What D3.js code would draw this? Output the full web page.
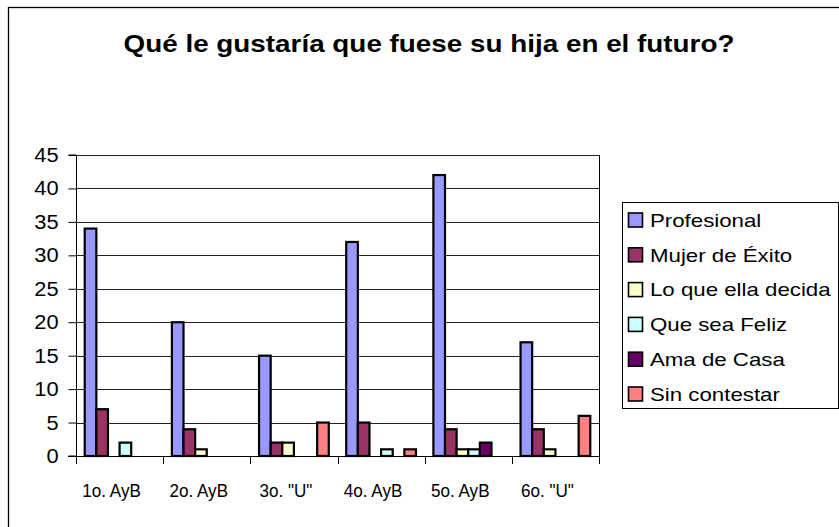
<!DOCTYPE html>
<html><head><meta charset="utf-8">
<script src="https://cdn.jsdelivr.net/npm/d3@7"></script>
<style>html,body{margin:0;padding:0;background:#fff;}svg{display:block;}</style>
</head><body><svg id="c" width="839" height="527"></svg>
<script>
const categories = ['1o. AyB', '2o. AyB', '3o. "U"', '4o. AyB', '5o. AyB', '6o. "U"'];
const seriesNames = ['Profesional', 'Mujer de Éxito', 'Lo que ella decida', 'Que sea Feliz', 'Ama de Casa', 'Sin contestar'];
const seriesColors = ['#9999FF', '#993366', '#FFFFCC', '#CCFFFF', '#660066', '#FF8080'];
const profesional = [34, 20, 15, 32, 42, 17];
const mujerExito = [7, 4, 2, 5, 4, 4];
const loQueElla = [0, 1, 2, 0, 1, 1];
const queSeaFeliz = [2, 0, 0, 1, 1, 0];
const amaDeCasa = [0, 0, 0, 0, 2, 0];
const sinContestar = [0, 0, 5, 1, 0, 6];
const yTicks = [0, 5, 10, 15, 20, 25, 30, 35, 40, 45];
const titleText = 'Qué le gustaría que fuese su hija en el futuro?';

const values = [profesional, mujerExito, loQueElla, queSeaFeliz, amaDeCasa, sinContestar];
const svg = d3.select('#c');
const font = 'Arial, "Liberation Sans", sans-serif';

// chart border
svg.append('rect').attr('x', 8.5).attr('y', 7.5).attr('width', 900).attr('height', 600)
  .attr('fill', 'none').attr('stroke', '#000').attr('stroke-width', 1.3);

svg.append('g').attr('transform', 'translate(429,51.5) scale(1.16,1)')
  .append('text').attr('text-anchor', 'middle')
  .attr('font-family', font).attr('font-weight', 'bold').attr('font-size', 24)
  .text(titleText);

const L = 76, R = 599, T = 155, B = 456;
const x = d3.scaleBand().domain(categories).range([L, R]).paddingInner(0).paddingOuter(0);
const y = d3.scaleLinear().domain([0, 45]).range([B, T]);

// plot area border (top and right)
svg.append('path').attr('d', `M${L},${T + 0.5}H${R + 0.5}V${B}`).attr('fill', 'none').attr('stroke', '#000');

// gridlines
svg.append('g').selectAll('line').data(yTicks.filter(d => d > 0)).join('line')
  .attr('x1', L).attr('x2', R).attr('y1', d => Math.round(y(d)) + 0.5).attr('y2', d => Math.round(y(d)) + 0.5)
  .attr('stroke', '#222').attr('stroke-width', 1);

// bars
const catW = x.bandwidth();
const barW = catW / 7.5;
const inner = d3.scaleBand().domain(d3.range(seriesNames.length)).range([barW * 0.75, catW - barW * 0.75]).padding(0);
const gBars = svg.append('g');
values.forEach((arr, si) => {
  gBars.selectAll(null).data(arr.map((v, ci) => ({ v, ci }))).join('rect')
    .filter(d => d.v > 0)
    .attr('x', d => x(categories[d.ci]) + inner(si))
    .attr('y', d => y(d.v))
    .attr('width', inner.bandwidth())
    .attr('height', d => y(0) - y(d.v))
    .attr('fill', seriesColors[si]).attr('stroke', '#000').attr('stroke-width', 2.2);
});

// y axis
const yAxis = svg.append('g').attr('transform', `translate(${L + 0.5},0)`)
  .call(d3.axisLeft(y).tickValues(yTicks).tickSize(8).tickPadding(8).tickFormat(d3.format('d')));
yAxis.selectAll('text').attr('font-family', font).attr('font-size', 19.5).attr('fill', '#000')
  .attr('x', -16).attr('dy', '0.33em').attr('transform', 'scale(1.12,1)');
yAxis.selectAll('line,path').attr('stroke', '#000');
yAxis.select('.domain').attr('d', `M-8,${T}H0V${B}H-8`);

// x axis
const xAxis = svg.append('g').attr('transform', `translate(0,${B + 0.5})`)
  .call(d3.axisBottom(x).tickSize(0).tickPadding(0));
xAxis.select('.domain').attr('d', `M${L - 8},0H${R + 0.5}`).attr('stroke', '#000');
xAxis.selectAll('.tick text').attr('font-family', font).attr('font-size', 18).attr('fill', '#000')
  .attr('y', 0).attr('dy', 0)
  .attr('transform', 'translate(-8,40) scale(0.95,1)');
svg.append('g').selectAll('line').data(categories.concat(['end'])).join('line')
  .attr('x1', (d, i) => Math.round(L + i * catW) + 0.5).attr('x2', (d, i) => Math.round(L + i * catW) + 0.5)
  .attr('y1', B).attr('y2', B + 8).attr('stroke', '#000');

// legend
const lg = svg.append('g');
lg.append('rect').attr('x', 622.5).attr('y', 202.5).attr('width', 216).attr('height', 206)
  .attr('fill', '#fff').attr('stroke', '#000');
seriesNames.forEach((n, i) => {
  const cy = 220 + i * 34.8;
  lg.append('rect').attr('x', 628.5).attr('y', cy - 7).attr('width', 14).attr('height', 14)
    .attr('fill', seriesColors[i]).attr('stroke', '#000').attr('stroke-width', 1.6);
  lg.append('g').attr('transform', `translate(650,${cy + 6.8}) scale(1.19,1)`)
    .append('text').attr('font-family', font).attr('font-size', 18.7).text(n);
});
</script></body></html>
